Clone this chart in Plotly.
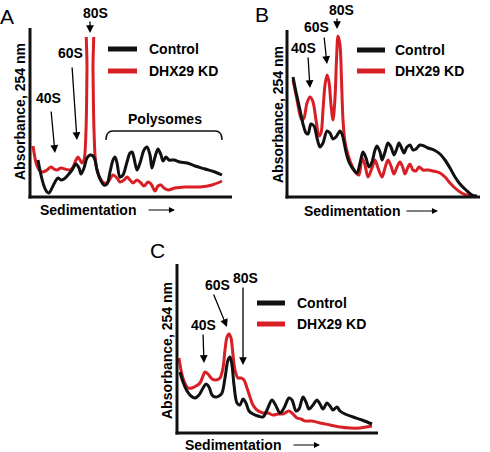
import plotly.graph_objects as go

W, H = 490, 452

# ---------------- Data (arbitrary units: sedimentation position, absorbance) -------------
# Panel A
a_red_x = [2, 4, 6, 9, 12, 16, 20, 23, 26, 30, 34, 39, 42, 45, 47, 49, 51, 53, 55, 56, 57, 61, 62, 63, 65,
           69, 73, 77, 82, 86, 89, 93, 96, 99, 102, 106, 110, 113, 117, 120, 124, 127, 130, 133, 137, 144,
           154, 169, 181, 191]
a_red_y = [50, 38, 30, 25, 24, 26, 29, 27, 26, 28, 27, 26, 29, 36, 39, 36, 33, 36, 66, 126, 186, 186, 126, 66, 31,
           18, 13, 14, 21, 18, 14, 16, 19, 16, 13, 16, 13, 10, 14, 12, 5, 10, 11, 8, 6, 8,
           9, 9, 11, 15]
a_black_x = [7, 10, 13, 16, 18, 21, 24, 27, 30, 33, 37, 41, 45, 48, 50, 53, 56, 59, 62, 64, 66, 69, 73, 76,
             79, 82, 84, 86, 89, 92, 96, 99, 101, 103, 106, 109, 113, 116, 119, 121, 124, 127, 130, 132,
             135, 138, 143, 149, 156, 164, 174, 184, 191]
a_black_y = [36, 21, 10, 4, 3, 8, 14, 18, 16, 17, 21, 26, 32, 28, 22, 28, 38, 41, 40, 36, 26, 17, 11, 12,
             24, 36, 39, 33, 19, 21, 34, 43, 44, 38, 26, 33, 46, 49, 41, 28, 39, 47, 41, 35,
             39, 36, 36, 34, 33, 30, 27, 24, 21]

# Panel B
b_red_x = [5, 9, 12, 14, 16, 19, 22, 25, 28, 31, 33, 35, 37, 39, 41, 43, 45, 47, 48.5, 50, 52, 53.5, 55, 57,
           60, 64, 68, 71, 74, 77, 80, 84, 87, 90, 94, 97, 100, 103, 106, 109, 112, 115, 117, 120, 122,
           125, 128, 131, 135, 140, 145, 152, 157, 162, 167, 172, 178, 184]
b_red_y = [116, 96, 81, 76, 78, 93, 99, 94, 76, 60, 63, 86, 111, 121, 114, 91, 76, 98, 136, 160, 151, 116, 76, 54,
           41, 30, 23, 21, 38, 31, 19, 28, 36, 28, 19, 28, 36, 30, 22, 29, 34, 28, 22, 29, 32,
           26, 25, 29, 26, 26, 25, 23, 19, 13, 8, 4, 1, 0]
b_black_x = [5, 8, 12, 15, 18, 20, 23, 26, 29, 32, 35, 39, 42, 45, 48, 52, 54, 56, 58, 61, 65, 69, 72, 75,
             78, 81, 84, 87, 89, 92, 94, 97, 100, 103, 106, 109, 111, 114, 116, 119, 122, 125, 128, 132,
             136, 140, 146, 152, 157, 162, 167, 172, 178, 184, 189]
b_black_y = [119, 104, 86, 72, 63, 62, 72, 70, 58, 49, 53, 65, 63, 57, 59, 65, 62, 54, 44, 34, 27, 23, 33, 44,
             38, 29, 34, 46, 50, 44, 36, 44, 53, 49, 41, 48, 53, 47, 43, 49, 51, 46, 47, 51,
             50, 48, 46, 42, 36, 28, 19, 12, 6, 1, 0]

# Panel C
c_red_x = [1, 3, 6, 10, 14, 18, 22, 25, 27, 30, 34, 38, 42, 45, 47, 49, 51, 53, 55, 57, 60, 63, 66, 69, 72,
           75, 79, 85, 90, 95, 100, 105, 111, 115, 119, 123, 127, 134, 142, 152, 162, 172, 182, 188, 194]
c_red_y = [74, 62, 51, 44, 44, 46, 49, 56, 60, 58, 53, 52, 54, 64, 82, 95, 98, 94, 77, 62, 54, 54, 52, 44, 35,
           27, 22, 19, 19, 17, 18, 18, 21, 18, 14, 13, 11, 11, 9, 7, 5, 4, 4, 5, 6]
c_black_x = [2, 5, 9, 13, 17, 21, 25, 28, 31, 34, 37, 41, 44, 47, 50, 52, 54, 56, 59, 62, 65, 68, 71, 75, 80,
             85, 89, 94, 98, 102, 106, 111, 114, 118, 121, 125, 128, 131, 135, 139, 142, 145, 149, 152,
             155, 159, 162, 167, 175, 184, 194]
c_black_y = [60, 50, 41, 36, 34, 37, 44, 48, 45, 37, 35, 36, 39, 54, 72, 75, 67, 47, 29, 27, 33, 29, 21, 18, 16,
             15, 22, 32, 26, 19, 24, 34, 32, 21, 23, 35, 30, 23, 27, 32, 28, 23, 29, 26,
             22, 25, 21, 18, 15, 12, 8]

series_names = ["Control", "DHX29 KD"]
peak_labels = ["40S", "60S", "80S"]
panel_letters = ["A", "B", "C"]
x_title = "Sedimentation"
y_title = "Absorbance, 254 nm"

BLACK = "#111111"
RED = "#d91f26"
FONT = "Liberation Sans, Arial, sans-serif"


def px(x):
    return x / W


def py(y):
    return 1 - y / H


fig = go.Figure()

# plot boxes in pixels: (left, right, top, bottom)
boxes = {
    "A": (31, 232, 37, 196),
    "B": (288, 480, 30, 196),
    "C": (178, 378, 265, 432),
}
data = {
    "A": (a_red_x, a_red_y, a_black_x, a_black_y),
    "B": (b_red_x, b_red_y, b_black_x, b_black_y),
    "C": (c_red_x, c_red_y, c_black_x, c_black_y),
}

layout_axes = {}
for i, key in enumerate(["A", "B", "C"]):
    l, r, t, b = boxes[key]
    sfx = "" if i == 0 else str(i + 1)
    rx, ry, bx, by = data[key]
    fig.add_trace(go.Scatter(x=rx, y=ry, mode="lines", name=series_names[1],
                             line=dict(color=RED, width=3, shape="spline", smoothing=0.9),
                             xaxis="x" + sfx, yaxis="y" + sfx, showlegend=False, hoverinfo="skip"))
    fig.add_trace(go.Scatter(x=bx, y=by, mode="lines", name=series_names[0],
                             line=dict(color=BLACK, width=3, shape="spline", smoothing=0.9),
                             xaxis="x" + sfx, yaxis="y" + sfx, showlegend=False, hoverinfo="skip"))
    layout_axes["xaxis" + sfx] = dict(domain=[px(l), px(r)], range=[0, r - l], visible=False,
                                      anchor="y" + sfx, fixedrange=True)
    layout_axes["yaxis" + sfx] = dict(domain=[py(b), py(t)], range=[0, b - t], visible=False,
                                      anchor="x" + sfx, fixedrange=True)

fig.update_layout(**layout_axes)

shapes = []
annotations = []


def line(x0, y0, x1, y1, color=BLACK, width=3):
    shapes.append(dict(type="line", xref="paper", yref="paper",
                       x0=px(x0), y0=py(y0), x1=px(x1), y1=py(y1),
                       line=dict(color=color, width=width)))


def text(x, y, s, size=14, bold=True, xanchor="center", angle=0):
    annotations.append(dict(x=px(x), y=py(y), xref="paper", yref="paper", text=s,
                            showarrow=False, xanchor=xanchor, yanchor="middle", textangle=angle,
                            font=dict(family=FONT, size=size, color="#000",
                                      weight="bold" if bold else "normal")))


def arrow(x0, y0, x1, y1, width=1.3, size=1.2):
    annotations.append(dict(x=px(x1), y=py(y1), xref="paper", yref="paper", text="",
                            showarrow=True, ax=x0 - x1, ay=y0 - y1, axref="pixel", ayref="pixel",
                            arrowhead=2, arrowsize=size, arrowwidth=width, arrowcolor="#000"))


# axes lines
line(30, 28, 30, 198.5)
line(28.5, 197, 232, 197)
line(287, 30, 287, 198.5)
line(285.5, 197, 480, 197)
line(177, 264, 177, 434.5)
line(175.5, 433, 378, 433)

# panel letters
text(7, 16, panel_letters[0], size=21, bold=False)
text(262, 14, panel_letters[1], size=21, bold=False)
text(157, 250, panel_letters[2], size=21, bold=False)

# legends
for (lx0, lx1, ty, tr, tx) in [(108, 137, 49, 71, 147), (357, 385, 50, 71, 393), (257, 285, 303, 324, 295)]:
    line(lx0, ty, lx1, ty, BLACK, 5)
    line(lx0, tr, lx1, tr, RED, 5)
    text(tx, ty, series_names[0], xanchor="left")
    text(tx, tr, series_names[1], xanchor="left")

# axis titles
text(38, 210, x_title, xanchor="left")
arrow(147, 210, 175, 210, width=1.1, size=1.1)
text(302, 211, x_title, xanchor="left")
arrow(405, 211, 438, 211, width=1.1, size=1.1)
text(183, 445, x_title, xanchor="left")
arrow(292, 445, 320, 445, width=1.1, size=1.1)
text(20, 112, y_title, angle=-90)
text(278, 115, y_title, angle=-90)
text(167, 351, y_title, angle=-90)

# peak labels A
text(48, 98, peak_labels[0]); arrow(51, 110, 55, 153)
text(70, 53, peak_labels[1]); arrow(72, 66, 77, 140)
text(95, 13, peak_labels[2]); arrow(90, 20, 90, 33)
# peak labels B
text(303, 48, peak_labels[0]); arrow(308, 56, 310, 88)
text(316, 27, peak_labels[1]); arrow(324, 36, 327, 64)
text(341, 10, peak_labels[2]); arrow(337, 17, 337, 29)
# peak labels C
text(203, 325, peak_labels[0]); arrow(203, 333, 204, 363)
text(217, 285, peak_labels[1]); arrow(213, 293, 227, 327)
text(245, 278, peak_labels[2]); arrow(243, 286, 243, 365)

# Polysomes bracket
path = (f"M {px(106)},{py(140)} Q {px(106)},{py(131)} {px(113)},{py(131)} "
        f"L {px(215)},{py(131)} Q {px(222)},{py(131)} {px(222)},{py(140)}")
shapes.append(dict(type="path", xref="paper", yref="paper", path=path,
                   line=dict(color=BLACK, width=1.5)))
text(165, 119, "Polysomes")

fig.update_layout(width=W, height=H, margin=dict(l=0, r=0, t=0, b=0),
                  paper_bgcolor="white", plot_bgcolor="white",
                  shapes=shapes, annotations=annotations, showlegend=False)

fig.write_html("out.html", config={"displayModeBar": False},
               post_script="document.body.style.margin='0';document.body.style.overflow='hidden';")
